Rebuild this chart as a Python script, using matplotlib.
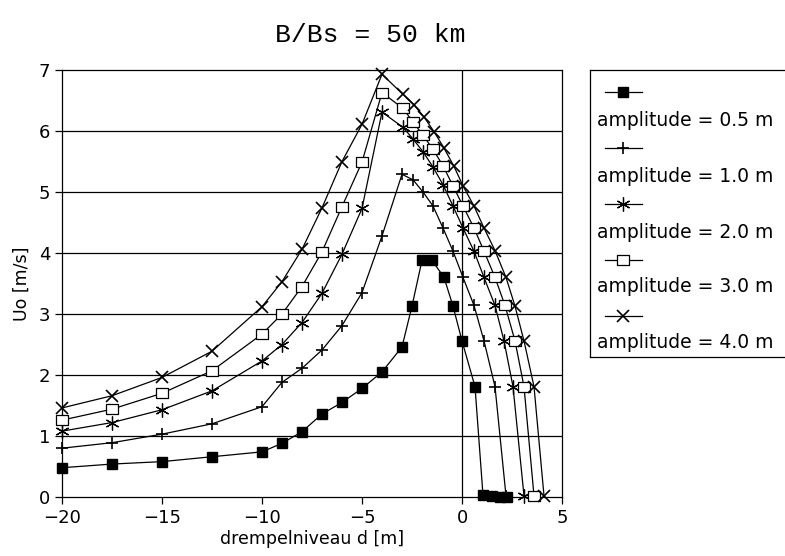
import matplotlib
matplotlib.use("Agg")
import matplotlib.pyplot as plt
from matplotlib.lines import Line2D

# ---- data ----
amp05_d = [-20, -17.5, -15, -12.5, -10, -9, -8, -7, -6, -5, -4, -3, -2.5, -2, -1.5,
           -0.9, -0.45, 0.0, 0.65, 1.05, 1.5, 1.9, 2.25]
amp05_u = [0.48, 0.54, 0.58, 0.66, 0.74, 0.88, 1.07, 1.36, 1.55, 1.78, 2.05, 2.46, 3.13, 3.88, 3.88,
           3.60, 3.13, 2.56, 1.81, 0.03, 0.01, 0.0, 0.0]

amp10_d = [-20, -17.5, -15, -12.5, -10, -9, -8, -7, -6, -5, -4, -3, -2.45, -1.95, -1.45,
           -0.95, -0.45, 0.05, 0.6, 1.1, 1.65, 2.2]
amp10_u = [0.80, 0.89, 1.03, 1.20, 1.48, 1.88, 2.11, 2.41, 2.81, 3.35, 4.28, 5.29, 5.20, 5.00, 4.77,
           4.41, 4.03, 3.60, 3.14, 2.56, 1.81, 0.02]

amp20_d = [-20, -17.5, -15, -12.5, -10, -9, -8, -7, -6, -5, -4, -2.95, -2.45, -1.95, -1.45,
           -0.95, -0.45, 0.05, 0.6, 1.1, 1.65, 2.1, 2.55, 3.1]
amp20_u = [1.08, 1.22, 1.43, 1.74, 2.23, 2.50, 2.86, 3.34, 3.98, 4.73, 6.31, 6.06, 5.87, 5.66, 5.41,
           5.12, 4.77, 4.41, 4.03, 3.60, 3.14, 2.56, 1.81, 0.02]

amp30_d = [-20, -17.5, -15, -12.5, -10, -9, -8, -7, -6, -5, -4, -2.95, -2.45, -1.95, -1.45,
           -0.95, -0.45, 0.05, 0.6, 1.1, 1.65, 2.15, 2.65, 3.1, 3.6]
amp30_u = [1.26, 1.44, 1.70, 2.07, 2.67, 3.00, 3.45, 4.02, 4.76, 5.49, 6.63, 6.37, 6.15, 5.93, 5.70,
           5.43, 5.10, 4.77, 4.41, 4.03, 3.60, 3.14, 2.56, 1.81, 0.02]

amp40_d = [-20, -17.5, -15, -12.5, -10, -9, -8, -7, -6, -5, -4, -2.95, -2.4, -1.9, -1.4,
           -0.9, -0.4, 0.05, 0.6, 1.1, 1.65, 2.2, 2.65, 3.1, 3.6, 4.1]
amp40_u = [1.46, 1.66, 1.96, 2.39, 3.12, 3.53, 4.06, 4.74, 5.50, 6.11, 6.93, 6.60, 6.43, 6.23, 5.99,
           5.72, 5.42, 5.10, 4.77, 4.41, 4.04, 3.60, 3.13, 2.56, 1.81, 0.02]

labels = ["amplitude = 0.5 m", "amplitude = 1.0 m", "amplitude = 2.0 m",
          "amplitude = 3.0 m", "amplitude = 4.0 m"]
x_ticks = [-20, -15, -10, -5, 0, 5]
y_ticks = [0, 1, 2, 3, 4, 5, 6, 7]
title = "B/Bs = 50 km"
xlabel = "drempelniveau d [m]"
ylabel = "Uo [m/s]"

# ---- styles ----
rect = [(-1.3, -1), (1.3, -1), (1.3, 1), (-1.3, 1), (-1.3, -1)]
styles = [
    dict(marker="s", ms=6.5, mfc="black", mec="black"),
    dict(marker="+", ms=9, mew=1.2, mfc="black", mec="black"),
    dict(marker=(6, 2, 0), ms=10, mew=0.9, mfc="black", mec="black"),
    dict(marker=rect, ms=8.5, mew=0.9, mfc="white", mec="black"),
    dict(marker="x", ms=8.5, mew=1.2, mfc="black", mec="black"),
]
series = [(amp05_d, amp05_u), (amp10_d, amp10_u), (amp20_d, amp20_u),
          (amp30_d, amp30_u), (amp40_d, amp40_u)]

W, H = 785, 556
fig = plt.figure(figsize=(W / 100, H / 100), dpi=100)
plt.rcParams['font.family'] = ['DejaVu Sans']

ax = fig.add_axes([62 / W, 1 - 497 / H, (562 - 62) / W, (497 - 70) / H])
ax.set_xlim(-20, 5)
ax.set_ylim(0, 7)

for yv in y_ticks[1:-1]:
    ax.axhline(yv, color="black", lw=0.9, zorder=1)
ax.axvline(0, color="black", lw=0.9, zorder=1)

for (d, u), st in zip(series, styles):
    ax.plot(d, u, color="black", lw=0.9, zorder=3, clip_on=False, **st)

ax.set_xticks(x_ticks)
ax.set_yticks(y_ticks)
ax.set_xticklabels([("\u2212" + str(-v)) if v < 0 else str(v) for v in x_ticks])
ax.tick_params(direction="out", length=5, width=0.9, labelsize=13, colors="black")
for sp in ax.spines.values():
    sp.set_linewidth(0.9)
ax.set_xlabel(xlabel, fontsize=12.5, labelpad=2)
ax.set_ylabel(ylabel, fontsize=12.5, labelpad=6)

fig.text(370 / W, 1 - 35 / H, title, ha="center", va="center",
         family="Liberation Mono", fontsize=19)

# ---- legend box ----
lax = fig.add_axes([590 / W, 1 - 357 / H, 0.5, (357 - 70) / H])
lax.set_xticks([])
lax.set_yticks([])
lax.set_xlim(0, 1)
lax.set_ylim(0, 1)
for sp in lax.spines.values():
    sp.set_linewidth(0.9)

marker_rows = [92, 148, 204, 260, 316]
label_rows = [120, 176, 232, 287, 343]
for lab, st, my, ly in zip(labels, styles, marker_rows, label_rows):
    yf = 1 - my / H
    ln = Line2D([605 / W, 623 / W, 642 / W], [yf, yf, yf], transform=fig.transFigure,
                color="black", lw=0.9, markevery=[1], **st)
    fig.add_artist(ln)
    fig.text(597 / W, 1 - ly / H, lab, ha="left", va="center", fontsize=13.5)

fig.savefig("out.png", dpi=100)
